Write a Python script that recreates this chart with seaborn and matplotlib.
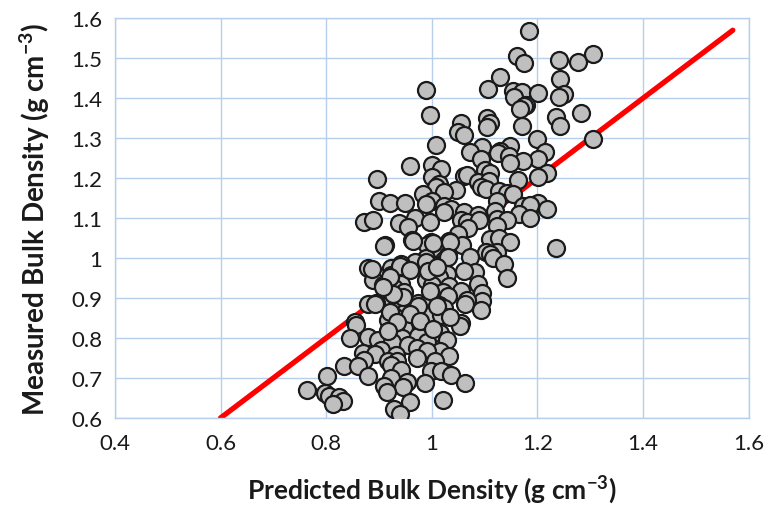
import matplotlib
matplotlib.use("Agg")
import matplotlib.pyplot as plt
import seaborn as sns
import pandas as pd

# Predicted vs measured bulk density (g cm-3)
predicted = [
    1.185, 1.162, 1.174, 1.240, 1.277, 1.305, 1.130, 1.243, 0.990, 1.107,
    1.153, 1.170, 1.201, 1.250, 1.240, 1.156, 1.178, 1.174, 1.167, 0.997,
    1.282, 1.236, 1.105, 1.110, 1.104, 1.056, 1.170, 1.243, 1.050, 1.061,
    1.305, 1.199, 1.008, 1.096, 1.149, 1.130, 1.073, 1.214, 1.125, 1.146,
    1.094, 1.201, 1.172, 1.149, 0.958, 1.001, 1.017, 1.100, 1.111, 1.219,
    1.061, 1.067, 1.201, 1.000, 0.897, 1.163, 1.088, 1.108, 1.013, 1.008,
    1.093, 1.103, 1.045, 1.024, 1.127, 1.143, 0.983, 1.153, 1.000, 0.901,
    0.920, 0.950, 1.124, 1.201, 0.990, 1.024, 1.036, 1.172, 1.186, 1.219,
    1.119, 1.024, 1.061, 1.087, 1.166, 1.124, 0.969, 0.872, 0.888, 0.996,
    1.056, 1.067, 1.090, 1.143, 1.186, 0.938, 1.124, 0.955, 1.069, 1.049,
    0.962, 1.033, 1.110, 1.127, 1.149, 0.999, 0.912, 0.991, 1.058, 1.008,
    1.236, 1.102, 1.124, 1.111, 1.030, 1.073, 0.990, 1.116, 1.024, 0.969,
    0.941, 1.137, 0.923, 0.879, 0.948, 0.991, 1.008, 1.082, 1.061, 1.028,
    0.923, 1.143, 0.888, 0.990, 1.013, 1.087, 1.001, 0.908, 0.941, 1.033,
    0.928, 0.912, 1.056, 1.001, 1.022, 0.948, 1.096, 0.932, 1.030, 0.940,
    1.096, 1.067, 0.923, 0.973, 0.991, 0.879, 0.895, 1.013, 1.062, 1.024,
    1.094, 0.938, 0.948, 0.970, 0.999, 1.017, 0.928, 0.918, 0.972, 0.934,
    0.855, 0.857, 1.056, 1.054, 0.948, 1.001, 0.918, 0.932, 1.015, 0.944,
    0.879, 0.846, 0.973, 0.899, 1.028, 0.925, 0.991, 0.955, 0.972, 0.904,
    1.015, 0.991, 0.870, 0.892, 0.933, 1.033, 0.972, 0.872, 0.918, 1.006,
    0.934, 0.833, 0.861, 0.923, 0.941, 0.999, 1.017, 0.879, 1.036, 0.802,
    0.923, 0.953, 0.987, 1.063, 0.909, 0.946, 0.916, 0.763, 0.798, 0.806,
    0.824, 0.831, 0.813, 1.022, 0.958, 0.928, 0.939,
    0.909, 0.964, 1.002, 1.034, 1.030, 0.940, 0.958, 0.921, 0.990, 0.992,
    1.009, 0.887, 0.996, 0.945, 0.926, 0.908, 0.892, 0.974, 1.009, 0.921,
    0.958, 0.934, 0.977, 1.034, 0.917, 1.002,
]
measured = [
    1.567, 1.505, 1.488, 1.495, 1.490, 1.510, 1.452, 1.447, 1.421, 1.423,
    1.419, 1.416, 1.413, 1.411, 1.403, 1.402, 1.384, 1.380, 1.373, 1.358,
    1.363, 1.353, 1.350, 1.337, 1.327, 1.338, 1.330, 1.330, 1.315, 1.309,
    1.298, 1.297, 1.284, 1.278, 1.280, 1.268, 1.265, 1.265, 1.262, 1.255,
    1.247, 1.247, 1.243, 1.237, 1.230, 1.233, 1.222, 1.221, 1.214, 1.212,
    1.205, 1.207, 1.203, 1.203, 1.199, 1.195, 1.191, 1.193, 1.185, 1.178,
    1.179, 1.173, 1.171, 1.166, 1.167, 1.164, 1.160, 1.160, 1.143, 1.143,
    1.138, 1.139, 1.143, 1.139, 1.135, 1.131, 1.124, 1.131, 1.133, 1.124,
    1.119, 1.115, 1.115, 1.108, 1.110, 1.098, 1.100, 1.091, 1.094, 1.091,
    1.094, 1.090, 1.094, 1.096, 1.100, 1.088, 1.081, 1.077, 1.075, 1.061,
    1.044, 1.042, 1.047, 1.050, 1.040, 1.040, 1.032, 1.032, 1.032, 1.023,
    1.025, 1.015, 1.015, 1.011, 1.007, 1.003, 1.001, 1.000, 0.994, 0.990,
    0.984, 0.984, 0.975, 0.974, 0.972, 0.974, 0.982, 0.965, 0.967, 0.961,
    0.957, 0.949, 0.945, 0.945, 0.953, 0.936, 0.932, 0.932, 0.934, 0.931,
    0.924, 0.916, 0.917, 0.914, 0.916, 0.916, 0.912, 0.905, 0.905, 0.899,
    0.892, 0.895, 0.889, 0.887, 0.884, 0.884, 0.887, 0.883, 0.884, 0.876,
    0.870, 0.870, 0.862, 0.866, 0.858, 0.858, 0.854, 0.845, 0.843, 0.840,
    0.841, 0.833, 0.837, 0.831, 0.825, 0.820, 0.818, 0.812, 0.812, 0.800,
    0.802, 0.800, 0.804, 0.796, 0.796, 0.791, 0.791, 0.783, 0.776, 0.771,
    0.767, 0.767, 0.762, 0.760, 0.758, 0.754, 0.750, 0.746, 0.742, 0.742,
    0.742, 0.729, 0.729, 0.733, 0.721, 0.717, 0.717, 0.704, 0.707, 0.706,
    0.700, 0.690, 0.688, 0.688, 0.680, 0.677, 0.665, 0.670, 0.663, 0.655,
    0.652, 0.642, 0.636, 0.646, 0.641, 0.622, 0.609,
    1.030, 1.043, 1.038, 1.040, 1.003, 0.980, 0.970, 0.953, 0.990, 0.967,
    0.977, 0.972, 0.918, 0.902, 0.910, 0.928, 0.885, 0.880, 0.880, 0.865,
    0.860, 0.840, 0.842, 0.852, 0.818, 0.822,
]

# 1:1 reference line
line_x = [0.6, 1.57]
line_y = [0.6, 1.57]

x_ticks = [0.4, 0.6, 0.8, 1.0, 1.2, 1.4, 1.6]
x_tick_labels = ["0.4", "0.6", "0.8", "1", "1.2", "1.4", "1.6"]
y_ticks = [0.6, 0.7, 0.8, 0.9, 1.0, 1.1, 1.2, 1.3, 1.4, 1.5, 1.6]
y_tick_labels = ["0.6", "0.7", "0.8", "0.9", "1", "1.1", "1.2", "1.3", "1.4", "1.5", "1.6"]

df = pd.DataFrame({"predicted": predicted, "measured": measured})

sns.set_theme(style="white")
plt.rcParams["font.family"] = ["Lato", "DejaVu Sans"]
plt.rcParams["mathtext.default"] = "regular"

fig = plt.figure(figsize=(7.71, 5.06), dpi=100)
ax = fig.add_axes([0.149, 0.172, 0.822, 0.790])

grid_color = "#B7CFEA"
ax.set_axisbelow(True)
ax.grid(True, color=grid_color, linewidth=1.0)

sns.lineplot(x=line_x, y=line_y, ax=ax, color="#FF0000", linewidth=3.8,
             zorder=2, legend=False)
sns.scatterplot(data=df, x="predicted", y="measured", ax=ax, s=150,
                color="#BFBFBF", edgecolor="#1A1A1A", linewidth=1.6,
                zorder=3, legend=False)

ax.set_xlim(0.4, 1.6)
ax.set_ylim(0.6, 1.6)
ax.set_xticks(x_ticks)
ax.set_xticklabels(x_tick_labels)
ax.set_yticks(y_ticks)
ax.set_yticklabels(y_tick_labels)
ax.tick_params(axis="both", length=0, labelsize=16, colors="#1A1A1A")
ax.tick_params(axis="x", pad=11)
ax.tick_params(axis="y", pad=9)

for side in ["top", "right", "left", "bottom"]:
    ax.spines[side].set_color(grid_color)
    ax.spines[side].set_linewidth(1.0)

ax.set_xlabel(r"Predicted Bulk Density (g cm$^{-3}$)", fontsize=19,
              fontweight="bold", color="#1A1A1A", labelpad=14)
ax.set_ylabel(r"Measured Bulk Density (g cm$^{-3}$)", fontsize=20,
              fontweight="bold", color="#1A1A1A", labelpad=14)

fig.savefig("out.png", dpi=100)
